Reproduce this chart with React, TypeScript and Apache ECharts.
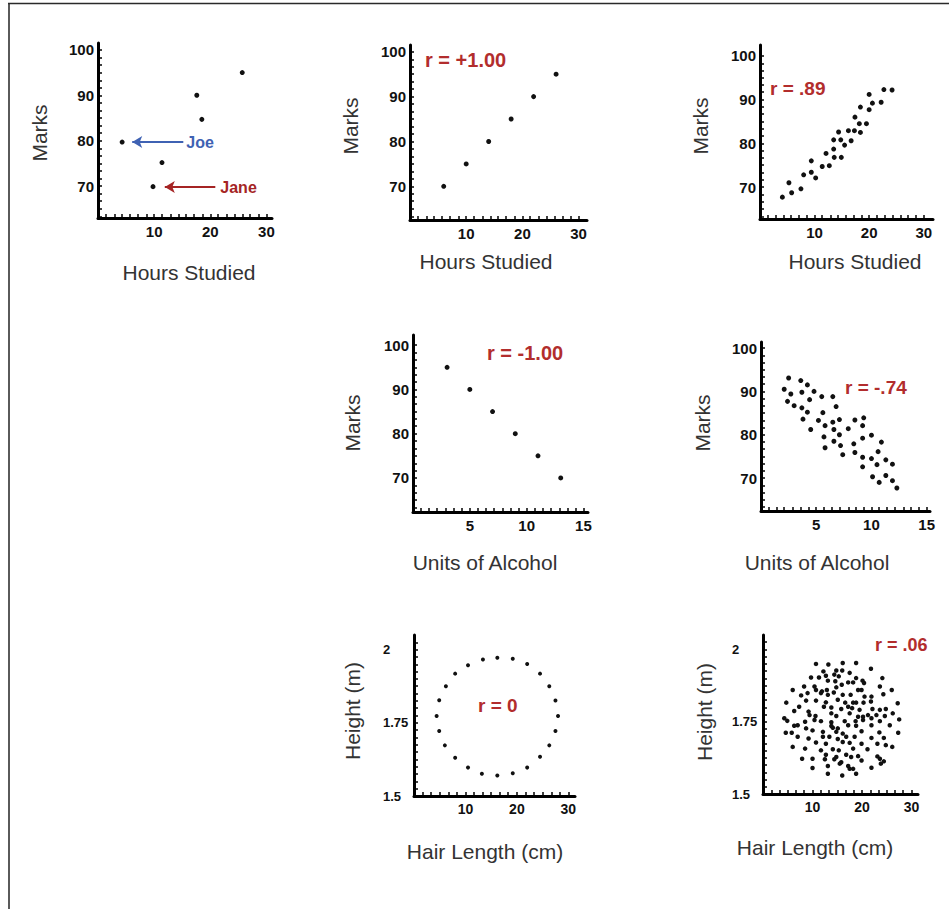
import React, { useEffect, useRef } from 'react';
import * as echarts from 'echarts';

// ---------- data ----------
const joeJane = [[4.3, 79.7], [9.8, 69.9], [11.4, 75.2], [17.6, 90], [18.5, 84.7], [25.7, 95]];
const perfectPos = [[6, 70], [10, 75], [14, 80], [18, 85], [22, 90], [26, 95]];
const strongPos = [
  [4.1, 67.7], [5.3, 71], [5.8, 68.7], [7.5, 69.6], [8.0, 72.8], [9.4, 73.4], [9.4, 76], [10.2, 72.1],
  [11.4, 74.7], [12.1, 77.7], [12.7, 74.9], [13.5, 80.8], [13.5, 78.7], [13.6, 76.8], [14.4, 82.6],
  [14.8, 80.8], [14.9, 76.8], [15.5, 79.6], [16.2, 82.9], [16.7, 80.6], [17.3, 82.9], [17.4, 86],
  [18.2, 84.5], [18.4, 88.3], [18.4, 82.5], [19.5, 84.5], [20, 91.2], [20, 87.7], [20.6, 89.2],
  [22.2, 89.4], [22.7, 92.3], [24.2, 92.2]
];
const perfectNeg = [[3, 95], [5, 90], [7, 85], [9, 80], [11, 75], [13, 70]];
const moderateNeg = [
  [2.1, 90.5], [2.5, 93.1], [2.4, 87.7], [2.7, 89.4], [3.0, 86.7], [3.6, 92.5], [3.7, 89.8], [3.7, 86.2],
  [3.8, 83.6], [4.2, 91.5], [4.4, 88.1], [4.2, 85.2], [4.5, 81.2], [4.8, 90], [5.2, 83.3], [5.5, 88.8],
  [5.6, 85.1], [5.8, 82.1], [5.7, 79.5], [5.8, 77], [6.5, 88.8], [6.5, 82.9], [6.6, 81.2], [6.6, 78.5],
  [6.8, 86.5], [7.1, 83.5], [7.1, 80], [7.2, 77.5], [7.4, 75.4], [7.9, 81.4], [8.5, 83.4], [8.4, 77.9],
  [8.5, 75.9], [9.2, 82.1], [9.3, 83.9], [9.2, 79.2], [9.2, 74.8], [9.2, 72.6], [10.0, 79.9], [10.0, 74.5],
  [10.1, 70.3], [10.5, 73.1], [10.6, 76.1], [10.7, 69], [10.9, 78.3], [11.3, 74.2], [11.3, 70.6],
  [11.9, 73.2], [11.9, 69.4], [12.3, 67.7]
];
const circleData = [
  [4.4, 1.773], [4.9, 1.827], [4.9, 1.722], [6.2, 1.875], [6.0, 1.673], [8.0, 1.918], [8.0, 1.631],
  [10.5, 1.947], [10.5, 1.597], [13.4, 1.966], [13.2, 1.576], [16.2, 1.972], [16.2, 1.570], [19.2, 1.969],
  [19.2, 1.578], [22.0, 1.951], [22.0, 1.597], [24.5, 1.918], [24.5, 1.634], [26.3, 1.875], [26.3, 1.673],
  [27.5, 1.826], [27.5, 1.722], [28.0, 1.773]
];
const cloudData = [
  [10.7, 1.950], [13.2, 1.948], [16.1, 1.953], [18.8, 1.953],
  [12.2, 1.924], [14.8, 1.927], [16.0, 1.927], [21.8, 1.933],
  [9.7, 1.903], [11.3, 1.903], [12.7, 1.909], [14.4, 1.913], [15.3, 1.907], [17.5, 1.919], [18.8, 1.901], [20.1, 1.892], [24.1, 1.901],
  [13.1, 1.892], [14.6, 1.890], [15.9, 1.878], [17.2, 1.886], [18.2, 1.886], [20.4, 1.884],
  [6.0, 1.860], [8.3, 1.872], [10.4, 1.872], [10.7, 1.860], [11.9, 1.855], [12.9, 1.860], [14.8, 1.869], [19.2, 1.860], [19.9, 1.860], [23.6, 1.872], [26.0, 1.860],
  [7.7, 1.841], [9.0, 1.849], [11.7, 1.849], [13.1, 1.843], [14.3, 1.851], [16.1, 1.843], [17.7, 1.843], [20.5, 1.837], [21.9, 1.837], [24.3, 1.845],
  [4.7, 1.816], [8.7, 1.823], [10.7, 1.823], [12.7, 1.817], [15.1, 1.826], [16.6, 1.816], [18.2, 1.816], [18.8, 1.816], [20.3, 1.816], [21.8, 1.820], [27.2, 1.814],
  [6.3, 1.787], [7.3, 1.802], [9.2, 1.785], [12.3, 1.802], [13.8, 1.799], [15.8, 1.794], [17.2, 1.802], [18.0, 1.797], [19.5, 1.791], [22.1, 1.794], [23.6, 1.791], [24.8, 1.794],
  [9.4, 1.773], [10.6, 1.770], [13.8, 1.779], [14.8, 1.770], [17.5, 1.779], [19.2, 1.767], [20.2, 1.767], [21.2, 1.773], [22.9, 1.773], [24.6, 1.770], [26.2, 1.779],
  [4.3, 1.762], [4.9, 1.753], [7.0, 1.738], [8.5, 1.750], [10.4, 1.756], [11.7, 1.752], [13.8, 1.748], [16.5, 1.752], [18.7, 1.752], [20.2, 1.756], [21.9, 1.762], [23.6, 1.752], [27.5, 1.758],
  [6.3, 1.736], [8.7, 1.727], [13.8, 1.735], [14.1, 1.729], [15.1, 1.727], [17.2, 1.738], [18.8, 1.736], [21.9, 1.738], [25.6, 1.738],
  [4.6, 1.712], [5.8, 1.712], [10.0, 1.720], [12.1, 1.715], [14.8, 1.715], [16.1, 1.709], [19.9, 1.717], [23.5, 1.713], [27.3, 1.712],
  [7.0, 1.698], [9.2, 1.692], [12.1, 1.698], [13.4, 1.698], [15.1, 1.690], [16.8, 1.698], [18.5, 1.698], [21.9, 1.694], [24.4, 1.694],
  [10.7, 1.678], [12.7, 1.674], [16.1, 1.680], [17.5, 1.677], [19.9, 1.674], [23.1, 1.674], [24.8, 1.669],
  [6.0, 1.663], [8.5, 1.657], [11.7, 1.651], [14.1, 1.655], [15.3, 1.651], [18.2, 1.657], [21.1, 1.655], [26.1, 1.663],
  [12.7, 1.636], [14.8, 1.628], [16.8, 1.636], [19.2, 1.631], [23.1, 1.630],
  [7.9, 1.622], [10.0, 1.622], [12.5, 1.620], [14.4, 1.620], [15.8, 1.610], [17.8, 1.628], [19.9, 1.616], [23.6, 1.622], [24.4, 1.613],
  [13.1, 1.597], [15.5, 1.605], [17.2, 1.597], [18.2, 1.587], [21.9, 1.591], [23.8, 1.605],
  [10.0, 1.590], [13.1, 1.570], [16.0, 1.564], [18.8, 1.570], [17.5, 1.587]
];

// tick labels and tick marks
const hoursLabels = [10, 20, 30];
const alcoholLabels = [5, 10, 15];
const marksLabels = [70, 80, 90, 100];
const heightLabels = [1.5, 1.75, 2];
const hoursTicks = [1.4, 2.9, 4.3, 5.7, 7.1, 8.6, 10, 11.4, 12.9, 14.3, 15.7, 17.1, 18.6, 20, 21.4, 22.9, 24.3, 25.7, 27.1, 28.6, 30];
const alcoholTicks = [0.7, 1.4, 2.1, 2.9, 3.6, 4.3, 5, 5.7, 6.4, 7.1, 7.9, 8.6, 9.3, 10, 10.7, 11.4, 12.1, 12.9, 13.6, 14.3, 15];
const hairTicks = [1.7, 3.3, 5, 6.7, 8.3, 10, 11.7, 13.3, 15, 16.7, 18.3, 20, 21.7, 23.3, 25, 26.7, 28.3, 30];
const marksTicks = [63.3, 65, 66.7, 68.3, 70, 71.7, 73.3, 75, 76.7, 78.3, 80, 81.7, 83.3, 85, 86.7, 88.3, 90, 91.7, 93.3, 95, 96.7, 98.3, 100];
const heightTicks = [1.525, 1.55, 1.575, 1.6, 1.625, 1.65, 1.675, 1.7, 1.725, 1.75, 1.775, 1.8, 1.825, 1.85, 1.875, 1.9, 1.925, 1.95, 1.975, 2, 2.025];

const FONT = '"Liberation Sans", Arial, Helvetica, sans-serif';
const RED = '#b22d2d';
const BLUE = '#3f62b3';
const JANE_RED = '#a52424';
const TITLE = '#333333';

function xAxis(gridIndex: number, max: number, labels: number[], ticks: number[], fontSize: number) {
  return {
    type: 'value', gridIndex, min: 0, max,
    axisLine: { show: true, onZero: false, lineStyle: { color: '#000', width: 3 } },
    axisTick: { show: true, inside: true, length: 4, customValues: ticks, lineStyle: { color: '#000', width: 1.5 } },
    axisLabel: {
      show: true, customValues: labels, margin: 6, color: '#111', fontWeight: 'bold', fontSize, fontFamily: FONT,
      formatter: (v: number) => String(v),
    },
    splitLine: { show: false },
  };
}

function yAxis(gridIndex: number, min: number, max: number, labels: number[], ticks: number[], fontSize: number, leftAlign: boolean) {
  return {
    type: 'value', gridIndex, min, max,
    axisLine: { show: true, onZero: false, lineStyle: { color: '#000', width: 3 } },
    axisTick: { show: true, inside: true, length: 4, customValues: ticks, lineStyle: { color: '#000', width: 1.5 } },
    axisLabel: {
      show: true, customValues: labels, margin: leftAlign ? 31 : 4, align: leftAlign ? 'left' : 'right',
      color: '#111', fontWeight: 'bold', fontSize, fontFamily: FONT,
      formatter: (v: number) => String(v),
    },
    splitLine: { show: false },
  };
}

function scatter(idx: number, data: number[][], size: number, extra: any = {}) {
  return {
    type: 'scatter', xAxisIndex: idx, yAxisIndex: idx, data, symbolSize: size,
    itemStyle: { color: '#111', opacity: 1 }, silent: true, ...extra,
  };
}

function text(t: string, x: number, y: number, size: number, color: string, bold: boolean, align = 'center', rotate = false) {
  return {
    type: 'text', x, y, rotation: rotate ? Math.PI / 2 : 0, silent: true,
    style: {
      text: t, fill: color, font: `${bold ? 'bold ' : ''}${size}px ${FONT}`,
      textAlign: align, textVerticalAlign: 'middle',
    },
  };
}

export default function App() {
  const ref = useRef<HTMLDivElement>(null);
  useEffect(() => {
    if (!ref.current) return;
    const chart = echarts.init(ref.current, undefined, { renderer: 'svg' });
    const option: any = {
      animation: false,
      backgroundColor: '#ffffff',
      grid: [
        { left: 98, top: 43, width: 174, height: 175 },
        { left: 410, top: 45, width: 177, height: 175 },
        { left: 760, top: 45, width: 173, height: 174 },
        { left: 413, top: 335, width: 175, height: 177 },
        { left: 761, top: 342, width: 169, height: 169 },
        { left: 414, top: 635, width: 161, height: 161 },
        { left: 763, top: 635, width: 155, height: 159 },
      ],
      xAxis: [
        xAxis(0, 31, hoursLabels, hoursTicks, 15),
        xAxis(1, 31.5, hoursLabels, hoursTicks, 15),
        xAxis(2, 31.7, hoursLabels, hoursTicks, 15),
        xAxis(3, 15.4, alcoholLabels, alcoholTicks, 15),
        xAxis(4, 15.3, alcoholLabels, alcoholTicks, 15),
        xAxis(5, 31.3, hoursLabels, hairTicks, 14),
        xAxis(6, 31.3, hoursLabels, hairTicks, 14),
      ],
      yAxis: [
        yAxis(0, 63, 101.5, marksLabels, marksTicks, 15, false),
        yAxis(1, 62.5, 101.5, marksLabels, marksTicks, 15, false),
        yAxis(2, 62.7, 102.5, marksLabels, marksTicks, 15, false),
        yAxis(3, 62.3, 102.3, marksLabels, marksTicks, 15, false),
        yAxis(4, 62.4, 101.4, marksLabels, marksTicks, 15, false),
        yAxis(5, 1.5, 2.05, heightLabels, heightTicks, 13, true),
        yAxis(6, 1.5, 2.05, heightLabels, heightTicks, 13, true),
      ],
      series: [
        scatter(0, joeJane, 5, {
          markLine: {
            silent: true, animation: false, symbol: ['arrow', 'none'], symbolSize: [9, 10],
            data: [
              [
                {
                  coord: [6.1, 79.7], lineStyle: { color: BLUE, width: 2, type: 'solid' },
                  label: { show: true, position: 'end', distance: 3, formatter: 'Joe', color: BLUE, fontWeight: 'bold', fontSize: 16, fontFamily: FONT },
                },
                { coord: [15.2, 79.7] },
              ],
              [
                {
                  coord: [11.9, 69.8], lineStyle: { color: JANE_RED, width: 2, type: 'solid' },
                  label: { show: true, position: 'end', distance: 5, formatter: 'Jane', color: JANE_RED, fontWeight: 'bold', fontSize: 16, fontFamily: FONT },
                },
                { coord: [20.9, 69.8] },
              ],
            ],
          },
        }),
        scatter(1, perfectPos, 5),
        scatter(2, strongPos, 5),
        scatter(3, perfectNeg, 5),
        scatter(4, moderateNeg, 5),
        scatter(5, circleData, 4),
        scatter(6, cloudData, 4.5),
      ],
      graphic: [
        { type: 'line', silent: true, shape: { x1: 9, y1: 3, x2: 9, y2: 909 }, style: { stroke: '#5a5a5a', lineWidth: 2 } },
        { type: 'line', silent: true, shape: { x1: 8, y1: 3.5, x2: 949, y2: 3.5 }, style: { stroke: '#2a2a2a', lineWidth: 1.5 } },
        // axis titles
        text('Marks', 39, 133, 21, TITLE, false, 'center', true),
        text('Hours Studied', 189, 272, 21, TITLE, false),
        text('Marks', 350, 126, 21, TITLE, false, 'center', true),
        text('Hours Studied', 486, 261, 21, TITLE, false),
        text('Marks', 700, 126, 21, TITLE, false, 'center', true),
        text('Hours Studied', 855, 261, 21, TITLE, false),
        text('Marks', 352, 423, 21, TITLE, false, 'center', true),
        text('Units of Alcohol', 485, 562, 21, TITLE, false),
        text('Marks', 702, 423, 21, TITLE, false, 'center', true),
        text('Units of Alcohol', 817, 562, 21, TITLE, false),
        text('Height (m)', 352, 711, 21, TITLE, false, 'center', true),
        text('Hair Length (cm)', 485, 851, 21, TITLE, false),
        text('Height (m)', 704, 712, 21, TITLE, false, 'center', true),
        text('Hair Length (cm)', 815, 847, 21, TITLE, false),
        // correlation labels
        text('r = +1.00', 425, 60, 20, RED, true, 'left'),
        text('r = .89', 770, 88, 19, RED, true, 'left'),
        text('r = -1.00', 487, 353, 20, RED, true, 'left'),
        text('r = -.74', 845, 387, 19, RED, true, 'left'),
        text('r = 0', 478, 705, 19, RED, true, 'left'),
        text('r = .06', 875, 645, 18, RED, true, 'left'),
      ],
    };
    chart.setOption(option);
    return () => chart.dispose();
  }, []);
  return (
    <div
      ref={ref}
      style={{ position: 'absolute', left: 0, top: 0, width: 949, height: 909, background: '#fff' }}
    />
  );
}
